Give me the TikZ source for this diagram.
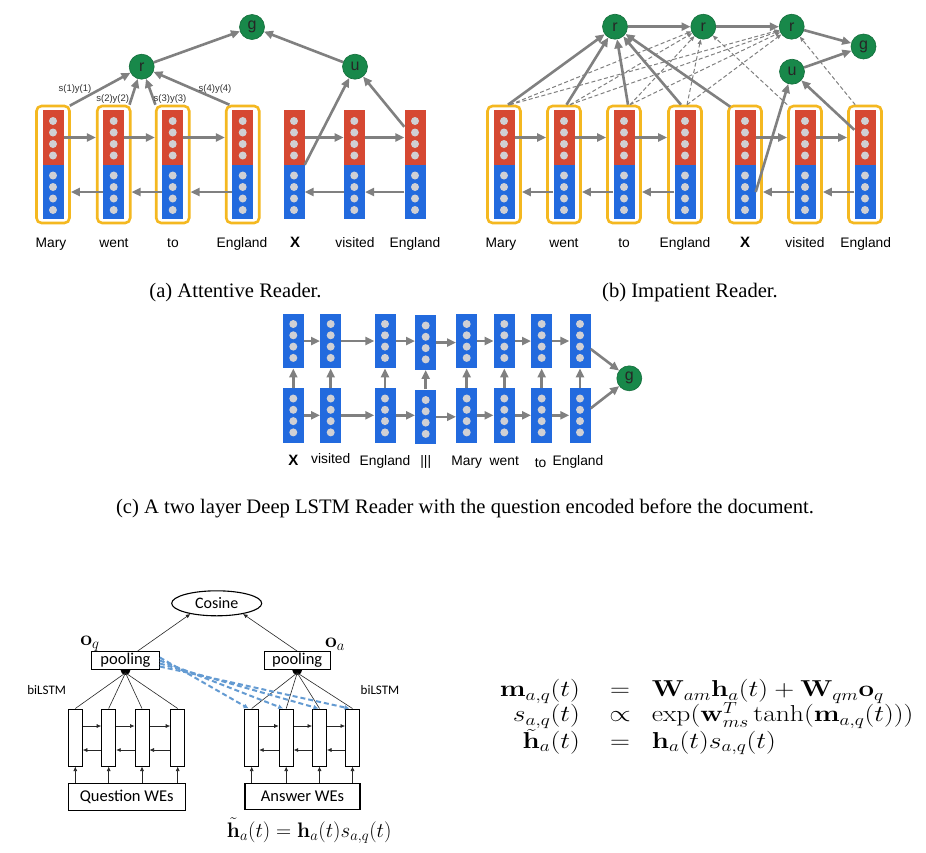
\RequirePackage{fix-cm}
\documentclass[tikz,border=0pt]{standalone}
\usepackage{graphicx}
\usepackage[no-math]{fontspec}
\setmainfont{Liberation Serif}
\setsansfont{Liberation Sans}
\newfontfamily\calib{Carlito}
\usetikzlibrary{arrows.meta,calc,shapes.geometric}
\definecolor{barred}{RGB}{214,72,50}
\definecolor{barblue}{RGB}{34,106,222}
\definecolor{boxyellow}{RGB}{244,184,32}
\definecolor{dotgray}{RGB}{208,208,212}
\definecolor{nodegreen}{RGB}{24,136,74}
\definecolor{arrgray}{RGB}{128,128,128}
\definecolor{dashblue}{RGB}{100,155,210}
\newcommand\eqtxt[1]{\scalebox{1.2}[1]{\fontsize{23}{23}\selectfont #1}}
\newcommand\htil{\tilde{\raisebox{0pt}[13pt][0pt]{$\mathbf{h}$}}}
\tikzset{
  redbar/.style={fill=barred, draw=none, minimum width=21pt, minimum height=55pt, inner sep=0pt},
  bluebar/.style={fill=barblue, draw=none, minimum width=21pt, minimum height=54pt, inner sep=0pt},
  cbar/.style={fill=barblue, draw=none, minimum width=21pt, minimum height=54.5pt, inner sep=0pt},
  ybox/.style={draw=boxyellow, line width=2.6pt, rounded corners=5pt, minimum width=33pt, minimum height=117pt, inner sep=0pt},
  gbox/.style={minimum width=21pt, minimum height=117pt, inner sep=0pt},
  gnode/.style={circle, fill=nodegreen, draw=nodegreen!80!black, line width=0.6pt, minimum size=25pt, inner sep=0pt, font=\sffamily\fontsize{16}{16}\selectfont, text=black!85},
  garr/.style={draw=arrgray, line width=2.6pt, -{Triangle[length=9pt,width=8pt]}},
  gdash/.style={draw=arrgray, line width=1pt, dash pattern=on 4pt off 2.5pt, -{Triangle[length=5pt,width=4pt]}},
  lab/.style={font=\sffamily\fontsize{13.8}{14}\selectfont, inner sep=0pt, anchor=base},
  xlab/.style={font=\sffamily\bfseries\fontsize{15}{15}\selectfont, inner sep=0pt, anchor=base},
  slab/.style={font=\sffamily\fontsize{9.5}{10}\selectfont, inner sep=0pt, text=black!80},
  captext/.style={font=\fontsize{20.6}{21}\selectfont, inner sep=0pt, anchor=base},
  blk/.style={draw=black!85, line width=0.6pt},
  barr/.style={blk, -{Latex[length=4.5pt,width=4pt]}},
  lbox/.style={draw=black, line width=1pt, fill=white, minimum width=14pt, minimum height=57pt, inner sep=0pt},
  wbox/.style={draw=black, line width=1.1pt, fill=white, inner sep=0pt, font=\calib\fontsize{16.5}{17}\selectfont},
  cal/.style={font=\calib\fontsize{13}{13}\selectfont, inner sep=0pt},
  bdash/.style={draw=dashblue, line width=2pt, dash pattern=on 5pt off 3pt, -{Latex[length=5pt,width=5pt]}},
  eqf/.style={inner sep=0pt},
  mf/.style={font=\fontsize{21}{21}\selectfont, inner sep=0pt}
}
\newcommand\mkcol[5]{% prefix, index, x, box style, unused
  \node[redbar] (#1R#2) at (#3,137.5) {};
  \node[bluebar] (#1B#2) at (#3,192) {};
  \foreach \yy in {121,132.5,144,155.5,175.5,187,198.5,210} \fill[dotgray] (#3,\yy) circle[radius=4pt];
  \node[#4] (#1Y#2) at (#3,164.5) {};
}
\newcommand\mkccol[3]{% index, x, yoffset
  \node[cbar] (cU#1) at (#2,341+#3) {};
  \node[cbar] (cL#1) at (#2,415.3+#3) {};
  \foreach \yy in {324,335.3,346.6,357.9,398.5,409.8,421.1,432.4} \fill[dotgray] (#2,\yy+#3) circle[radius=4pt];
}
\begin{document}
\begin{tikzpicture}[x=1pt,y=-1pt]
\useasboundingbox[fill=white] (0,0) rectangle (926,852);
% ---------------- panel (a)
\mkcol{a}{1}{53}{ybox}{}
\mkcol{a}{2}{113.7}{ybox}{}
\mkcol{a}{3}{172.7}{ybox}{}
\mkcol{a}{4}{242.7}{ybox}{}
\mkcol{a}{5}{294}{gbox}{}
\mkcol{a}{6}{354.3}{gbox}{}
\mkcol{a}{7}{415}{gbox}{}
\foreach \i/\j in {1/2,2/3,3/4,5/6,6/7}{
  \draw[garr] (aR\i.east) -- (aY\j.west |- aR\i.east);
  \draw[garr] (aB\j.west) -- (aY\i.east |- aB\j.west);
}
\node[gnode] (ag) at (252,27) {g};
\node[gnode] (ar) at (141.7,66.7) {r};
\node[gnode] (au) at (355,66.7) {u};
\draw[garr] ([xshift=-1pt,yshift=-1pt]aY1.north east) -- (ar);
\draw[garr] ([xshift=-2pt]aY2.north east) -- (ar);
\draw[garr] ([xshift=0.5pt]aY3.north west) -- (ar);
\draw[garr] ([xshift=4.5pt]aY4.north west) -- (ar);
\draw[garr] (ar) -- (ag);
\draw[garr] (au) -- (ag);
\draw[garr] (aB5.north east) -- (au);
\draw[garr] ([yshift=-17pt]aR7.north west) -- (au);
\node[slab] (s1) at (75,89) {s(1)y(1)};
\node[slab] (s2) at (112.7,99) {s(2)y(2)};
\node[slab] (s3) at (170,99) {s(3)y(3)};
\node[slab] (s4) at (215,89) {s(4)y(4)};
\node[lab] (aL1) at (51,247) {Mary};
\node[lab] (aL2) at (114,247) {went};
\node[lab] (aL3) at (173,247) {to};
\node[lab] (aL4) at (242,247) {England};
\node[xlab] (aL5) at (295,247.5) {X};
\node[lab] (aL6) at (355,247) {visited};
\node[lab] (aL7) at (415,247) {England};
% ---------------- panel (b)
\mkcol{b}{1}{504}{ybox}{}
\mkcol{b}{2}{564}{ybox}{}
\mkcol{b}{3}{624}{ybox}{}
\mkcol{b}{4}{685}{ybox}{}
\mkcol{b}{5}{745}{ybox}{}
\mkcol{b}{6}{805}{ybox}{}
\mkcol{b}{7}{865}{ybox}{}
\foreach \i/\j in {1/2,2/3,3/4,5/6,6/7}{
  \draw[garr] (bR\i.east) -- (bY\j.west |- bR\i.east);
  \draw[garr] (bB\j.west) -- (bY\i.east |- bB\j.west);
}
\node[gnode] (br1) at (615,26.7) {r};
\node[gnode] (br2) at (703.3,26.7) {r};
\node[gnode] (br3) at (791.7,26.7) {r};
\node[gnode] (bg) at (863.5,46.5) {g};
\node[gnode] (bu) at (792,71.7) {u};
\foreach \i/\s in {1/6,2/6,3/6,4/2}{
  \draw[gdash] ([xshift=\s pt]bY\i.north) -- (br2);
  \draw[gdash] ([xshift=\s pt]bY\i.north) -- (br3);
}
\draw[gdash] (bY6.north west) -- (br2);
\draw[gdash] ([xshift=8pt]bY7.north west) -- (br3);
\draw[garr] ([xshift=4pt]bY1.north) -- (br1);
\draw[garr] ([xshift=2.5pt]bY2.north) -- (br1);
\draw[garr] ([xshift=4pt]bY3.north) -- (br1);
\draw[garr] ([xshift=-4pt]bY4.north) -- (br1);
\draw[garr] ([xshift=3pt,yshift=-2pt]bY5.north west) -- (br1);
\draw[garr] (br1) -- (br2);
\draw[garr] (br2) -- (br3);
\draw[garr] (br3) -- (bg);
\draw[garr] (bu) -- (bg);
\draw[garr] (bB5.east) -- (bu);
\draw[garr] ([yshift=-20pt]bR7.north west) -- (bu);
\node[lab] (bL1) at (501,247) {Mary};
\node[lab] (bL2) at (564,247) {went};
\node[lab] (bL3) at (624,247) {to};
\node[lab] (bL4) at (685,247) {England};
\node[xlab] (bL5) at (745,247.5) {X};
\node[lab] (bL6) at (805,247) {visited};
\node[lab] (bL7) at (865.7,247) {England};
% captions
\node[captext] (capa) at (235.5,297) {(a) Attentive Reader.};
\node[captext] (capb) at (690,297) {(b) Impatient Reader.};
% ---------------- panel (c)
\mkccol{1}{293.3}{0}
\mkccol{2}{330.7}{0}
\mkccol{3}{385}{0}
\mkccol{4}{425.7}{1.5}
\mkccol{5}{466.7}{0}
\mkccol{6}{504.3}{0}
\mkccol{7}{541.7}{0}
\mkccol{8}{580}{0}
\foreach \i/\j in {1/2,2/3,3/4,4/5,5/6,6/7,7/8}{
  \draw[garr] (cU\i.east) -- (cU\j.west |- cU\i.east);
  \draw[garr] (cL\i.east) -- (cL\j.west |- cL\i.east);
}
\foreach \i in {1,...,8}{
  \draw[garr] (cL\i.north) -- (cU\i.south);
}
\node[gnode] (cg) at (629.3,378.3) {g};
\draw[garr] ([yshift=-8pt]cU8.east) -- (cg);
\draw[garr] ([yshift=7pt]cL8.east) -- (cg);
\node[xlab] (cL1t) at (293.3,465.5) {X};
\node[lab] (cL2t) at (330.7,463.5) {visited};
\node[lab] (cL3t) at (385,465.5) {England};
\node[lab] (cL4t) at (425.7,465) {|||};
\node[lab] (cL5t) at (466.7,465) {Mary};
\node[lab] (cL6t) at (504.3,465) {went};
\node[lab] (cL7t) at (540.5,467) {to};
\node[lab] (cL8t) at (578,465.5) {England};
\node[captext] (capc) at (465,513) {(c) A two layer Deep LSTM Reader with the question encoded before the document.};
% ---------------- bottom left
\node[ellipse, draw=black, line width=1.1pt, minimum width=90pt, minimum height=25pt, inner sep=0pt, font=\calib\fontsize{16}{16}\selectfont] (cos) at (216.7,603.3) {Cosine};
\node[mf] (oq) at (90,644) {$\mathbf{o}_q$};
\node[mf] (oa) at (335,644) {$\mathbf{o}_a$};
\node[wbox, minimum width=67.6pt, minimum height=17.6pt] (pq) at (125.5,660.5) {pooling};
\node[wbox, minimum width=65.7pt, minimum height=17.6pt] (pa) at (297.2,660.5) {pooling};
\draw[barr] ([xshift=12pt]pq.north) -- (cos.202);
\draw[barr] (pa.north) -- (cos.338);
\fill ([xshift=-5pt]pq.south) arc[start angle=180,end angle=360,radius=5pt] -- cycle;
\fill ([xshift=-5pt]pa.south) arc[start angle=180,end angle=360,radius=5pt] -- cycle;
\node[cal] (bl1) at (46.7,690) {biLSTM};
\node[cal] (bl2) at (380,690) {biLSTM};
\foreach \n/\x in {q1/75.3,q2/108.7,q3/142,q4/177.7,a1/251.7,a2/286.2,a3/319.5,a4/352.5}{
  \node[lbox] (\n) at (\x,737.5) {};
}
\foreach \k in {1,...,4}{
  \draw[blk] ([yshift=-3pt]pq.south) -- (q\k.north);
  \draw[blk] ([yshift=-3pt]pa.south) -- (a\k.north);
}
\foreach \i/\j in {1/2,2/3,3/4}{
  \draw[barr] ([yshift=11.5pt]q\i.east) -- ([yshift=11.5pt]q\j.west);
  \draw[barr] ([yshift=-12.5pt]q\j.west) -- ([yshift=-12.5pt]q\i.east);
  \draw[barr] ([yshift=11.5pt]a\i.east) -- ([yshift=11.5pt]a\j.west);
  \draw[barr] ([yshift=-12.5pt]a\j.west) -- ([yshift=-12.5pt]a\i.east);
}
\node[wbox, minimum width=116.7pt, minimum height=26.7pt] (qwe) at (126.7,796.7) {Question WEs};
\node[wbox, minimum width=115pt, minimum height=26pt] (awe) at (302.5,796.3) {Answer WEs};
\foreach \k in {1,...,4}{
  \draw[barr] (q\k.south |- qwe.north) -- (q\k.south);
  \draw[barr] (a\k.south |- awe.north) -- (a\k.south);
}
\draw[bdash] ([yshift=3pt]pq.east) -- ([xshift=-3pt]a1.north);
\draw[bdash] ([yshift=0pt]pq.east) -- ([xshift=-3pt]a2.north);
\draw[bdash] ([yshift=-3pt]pq.east) -- ([xshift=-1pt]a3.north);
\draw[bdash] ([yshift=-6pt]pq.east) -- ([xshift=-3pt]a4.north);
\node[mf, anchor=base west] (hf) at (226.7,837.5) {$\tilde{\mathbf{h}}_a(t)=\mathbf{h}_a(t)s_{a,q}(t)$};
% ---------------- equations
\node[eqf, anchor=base east] (e1l) at (580,696.7) {\eqtxt{$\mathbf{m}_{a,q}(t)$}};
\node[eqf, anchor=base] (e1m) at (620,696.7) {\eqtxt{$=$}};
\node[eqf, anchor=base west] (e1r) at (651.7,696.7) {\eqtxt{$\mathbf{W}_{am}\mathbf{h}_a(t)+\mathbf{W}_{qm}\mathbf{o}_q$}};
\node[eqf, anchor=base east] (e2l) at (580,721.7) {\eqtxt{$s_{a,q}(t)$}};
\node[eqf, anchor=base] (e2m) at (620,721.7) {\eqtxt{$\propto$}};
\node[eqf, anchor=base west] (e2r) at (651.7,721.7) {\eqtxt{$\exp(\mathbf{w}_{ms}^T\tanh(\mathbf{m}_{a,q}(t)))$}};
\node[eqf, anchor=base east] (e3l) at (580,748) {\eqtxt{$\htil_a(t)$}};
\node[eqf, anchor=base] (e3m) at (620,748) {\eqtxt{$=$}};
\node[eqf, anchor=base west] (e3r) at (651.7,748) {\eqtxt{$\mathbf{h}_a(t)s_{a,q}(t)$}};
\end{tikzpicture}
\end{document}
